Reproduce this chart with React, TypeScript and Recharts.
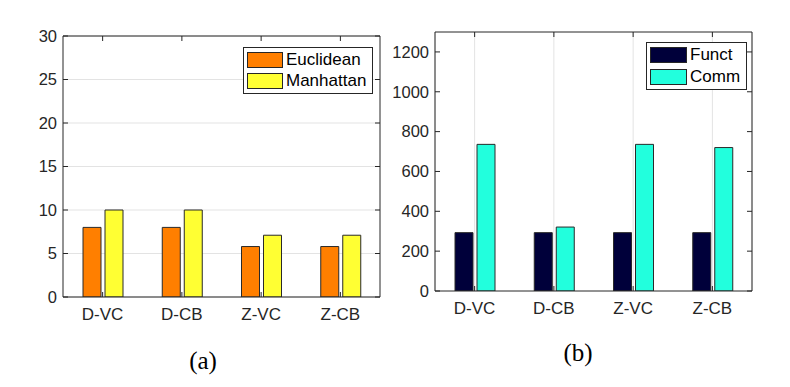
import { BarChart, Bar, XAxis, YAxis, CartesianGrid } from 'recharts';

const categories = ['D-VC', 'D-CB', 'Z-VC', 'Z-CB'];
const euclidean = [8, 8, 5.8, 5.8];
const manhattan = [10, 10, 7.1, 7.1];
const funct = [293, 293, 293, 293];
const comm = [736, 321, 736, 720];
const leftTicks = [0, 5, 10, 15, 20, 25, 30];
const rightTicks = [0, 200, 400, 600, 800, 1000, 1200];

const AXIS = '#262626';
const FONT = '"Liberation Sans", Arial, sans-serif';

interface SeriesDef {
  key: string;
  name: string;
  color: string;
}

interface PanelProps {
  data: Record<string, unknown>[];
  series: SeriesDef[];
  ticks: number[];
  domain: [number, number];
  margin: { top: number; right: number; bottom: number; left: number };
  gridX: boolean;
  legendPos: { left: number; top: number; swatch: number; pitch: number };
  left: number;
}

function LegendBox({ series, swatch, pitch }: { series: SeriesDef[]; swatch: number; pitch: number }) {
  return (
    <div
      style={{
        border: `1px solid ${AXIS}`,
        background: '#fff',
        padding: '4px 6px 4px 3px',
        fontFamily: FONT,
        fontSize: 17,
        color: '#000',
      }}
    >
      {series.map((s, i) => (
        <div
          key={s.key}
          style={{ display: 'flex', alignItems: 'center', height: 16, marginTop: i === 0 ? 0 : pitch - 16 }}
        >
          <div
            style={{
              width: swatch,
              height: 16,
              boxSizing: 'border-box',
              border: `1px solid ${AXIS}`,
              background: s.color,
              marginRight: 3,
            }}
          />
          <span style={{ lineHeight: '16px' }}>{s.name}</span>
        </div>
      ))}
    </div>
  );
}

function Panel({ data, series, ticks, domain, margin, gridX, legendPos, left }: PanelProps) {
  return (
    <div style={{ position: 'absolute', left, top: 0, width: 390, height: 330 }}>
      <BarChart width={390} height={330} data={data} margin={margin} barSize={18} barGap={4}>
        <CartesianGrid
          stroke="#e3e3e3"
          strokeWidth={1}
          horizontal={!gridX}
          vertical={gridX}
        />
        <XAxis
          dataKey="name"
          height={30}
          tickSize={-5}
          tickMargin={16}
          tick={{ fill: AXIS, fontSize: 17, fontFamily: FONT }}
          axisLine={{ stroke: AXIS }}
          tickLine={{ stroke: AXIS }}
          interval={0}
        />
        <XAxis
          xAxisId="top"
          dataKey="name"
          orientation="top"
          height={1}
          tickSize={-5}
          tickFormatter={() => ''}
          axisLine={{ stroke: AXIS }}
          tickLine={{ stroke: AXIS }}
          interval={0}
        />
        <YAxis
          width={63}
          domain={domain}
          ticks={ticks}
          tickSize={-5}
          tickMargin={11}
          interval={0}
          allowDataOverflow
          tick={{ fill: AXIS, fontSize: 16.5, fontFamily: FONT }}
          axisLine={{ stroke: AXIS }}
          tickLine={{ stroke: AXIS }}
        />
        <YAxis
          yAxisId="right"
          orientation="right"
          width={1}
          domain={domain}
          ticks={ticks}
          tickSize={-5}
          interval={0}
          allowDataOverflow
          tickFormatter={() => ''}
          axisLine={{ stroke: AXIS }}
          tickLine={{ stroke: AXIS }}
        />
        {series.map(s => (
          <Bar
            key={s.key}
            dataKey={s.key}
            name={s.name}
            fill={s.color}
            stroke="#2a2a2a"
            strokeWidth={1}
            isAnimationActive={false}
          />
        ))}
      </BarChart>
      <div style={{ position: 'absolute', left: legendPos.left, top: legendPos.top }}>
        <LegendBox series={series} swatch={legendPos.swatch} pitch={legendPos.pitch} />
      </div>
    </div>
  );
}

export default function App() {
  const dataA = categories.map((name, i) => ({ name, euclidean: euclidean[i], manhattan: manhattan[i] }));
  const dataB = categories.map((name, i) => ({ name, funct: funct[i], comm: comm[i] }));

  const captionStyle: React.CSSProperties = {
    position: 'absolute',
    width: 80,
    textAlign: 'center',
    fontFamily: '"Liberation Serif", "Times New Roman", serif',
    fontSize: 25,
    lineHeight: '28px',
    color: '#000',
  };

  return (
    <div style={{ position: 'absolute', left: 0, top: 0, width: 790, height: 387, background: '#fff' }}>
      <Panel
        left={0}
        data={dataA}
        series={[
          { key: 'euclidean', name: 'Euclidean', color: '#ff7f00' },
          { key: 'manhattan', name: 'Manhattan', color: '#ffff33' },
        ]}
        ticks={leftTicks}
        domain={[0, 30]}
        margin={{ top: 35, right: 9, bottom: 3, left: 0 }}
        gridX={false}
        legendPos={{ left: 243, top: 47, swatch: 36, pitch: 21 }}
      />
      <Panel
        left={372}
        data={dataB}
        series={[
          { key: 'funct', name: 'Funct', color: '#00003a' },
          { key: 'comm', name: 'Comm', color: '#22ffdd' },
        ]}
        ticks={rightTicks}
        domain={[0, 1300]}
        margin={{ top: 31, right: 9, bottom: 9, left: 0 }}
        gridX={true}
        legendPos={{ left: 274, top: 42, swatch: 37, pitch: 22 }}
      />
      <div style={{ ...captionStyle, left: 163, top: 347 }}>(a)</div>
      <div style={{ ...captionStyle, left: 538, top: 339 }}>(b)</div>
    </div>
  );
}
